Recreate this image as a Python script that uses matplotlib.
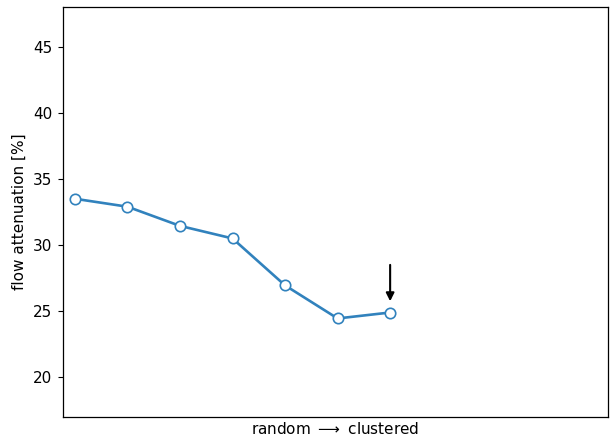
import numpy as np
import matplotlib.pyplot as plt

plt.rcParams['font.size'] = 11
plt.rcParams['ytick.major.size'] = 3.9
plt.rcParams['axes.linewidth'] = 0.9

# flow attenuation per arrangement step (random -> clustered)
steps = [0, 1, 2, 3, 4, 5, 6]
attenuation = [33.5, 32.9, 31.45, 30.5, 26.95, 24.45, 24.9]

fig = plt.figure(figsize=(6.1, 4.38), dpi=100)
ax = fig.add_axes([0.103, 0.048, 0.894, 0.936])

ax.plot(steps, attenuation, color='#3182bd', linewidth=1.9, marker='o',
        markersize=7.5, markerfacecolor='white', markeredgecolor='#3182bd',
        markeredgewidth=1.2)

# arrow marking the last configuration
ax.annotate('', xy=(steps[-1], attenuation[-1] + 0.85),
            xytext=(steps[-1], attenuation[-1] + 3.6),
            arrowprops=dict(arrowstyle='-|>', color='black', lw=1.5,
                            mutation_scale=12, shrinkA=0, shrinkB=0))

ax.set_xlim(-0.23, 10.15)
ax.set_ylim(17, 48)
ax.set_xticks([])
ax.set_yticks([20, 25, 30, 35, 40, 45])
ax.set_ylabel('flow attenuation [%]', labelpad=4.5)
ax.set_xlabel('random $\\longrightarrow$ clustered', labelpad=3)

fig.savefig('out.png', dpi=100)
